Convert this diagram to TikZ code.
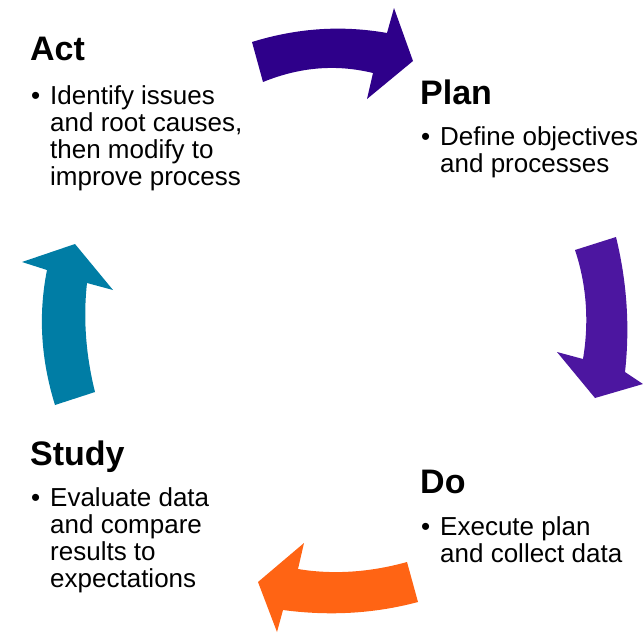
\documentclass[tikz,border=0pt]{standalone}
\usepackage{fontspec}
\setmainfont{Liberation Sans}
\definecolor{arrA}{RGB}{46,0,138}
\definecolor{arrB}{RGB}{76,22,160}
\definecolor{arrC}{RGB}{255,100,20}
\definecolor{arrD}{RGB}{0,125,165}
\begin{document}
\begin{tikzpicture}[x=1pt,y=-1pt,
  ttl/.style={anchor=base west,inner sep=0pt,font=\fontsize{34}{38}\selectfont\bfseries},
  bul/.style={anchor=base west,inner sep=0pt,font=\fontsize{26}{27}\selectfont},
  bodytext/.style={anchor=base west,inner sep=0pt,font=\fontsize{26}{27}\selectfont},
  cyc/.style={draw=none}]
\useasboundingbox (0,0) rectangle (643,633);
% arrows
\fill[arrA] (252,42) .. controls (297,28) and (342,25) .. (387,33) -- (394,8) -- (413,61) -- (367,99) -- (373,73)
  .. controls (336,64) and (300,67) .. (263,82) -- cycle;
\fill[arrB] (616,237) .. controls (627,282) and (630,327) .. (625,372) -- (643,384) -- (595,398) -- (557,352) -- (583,359)
  .. controls (589,323) and (587,286) .. (575,250) -- cycle;
\fill[arrC] (407,562) .. controls (371,572) and (334,575) .. (298,569) -- (304,543) -- (258,582) -- (277,632) -- (283,610)
  .. controls (328,616) and (373,614) .. (418,602) -- cycle;
\fill[arrD] (95,392) .. controls (86,356) and (83,319) .. (87,283) -- (113,290) -- (75,244) -- (22,262) -- (47,270)
  .. controls (38,315) and (41,360) .. (55,405) -- cycle;
% Act
\node[ttl] (actT) at (30,60) {Act};
\node[bul] (actB) at (31,104) {•};
\node[bodytext] (actX) at (50,104) {\parbox[t]{260pt}{\raggedright Identify issues\\and root causes,\\then modify to\\improve process}};
% Plan
\node[ttl] (planT) at (420,104) {Plan};
\node[bul] (planB) at (421,145) {•};
\node[bodytext] (planX) at (440,145) {\parbox[t]{220pt}{\raggedright Define objectives\\and processes}};
% Study
\node[ttl] (studyT) at (30,465) {Study};
\node[bul] (studyB) at (31,506) {•};
\node[bodytext] (studyX) at (50,506) {\parbox[t]{220pt}{\raggedright Evaluate data\\and compare\\results to\\expectations}};
% Do
\node[ttl] (doT) at (420,493) {Do};
\node[bul] (doB) at (421,535) {•};
\node[bodytext] (doX) at (440,535) {\parbox[t]{220pt}{\raggedright Execute plan\\and collect data}};
\end{tikzpicture}
\end{document}
